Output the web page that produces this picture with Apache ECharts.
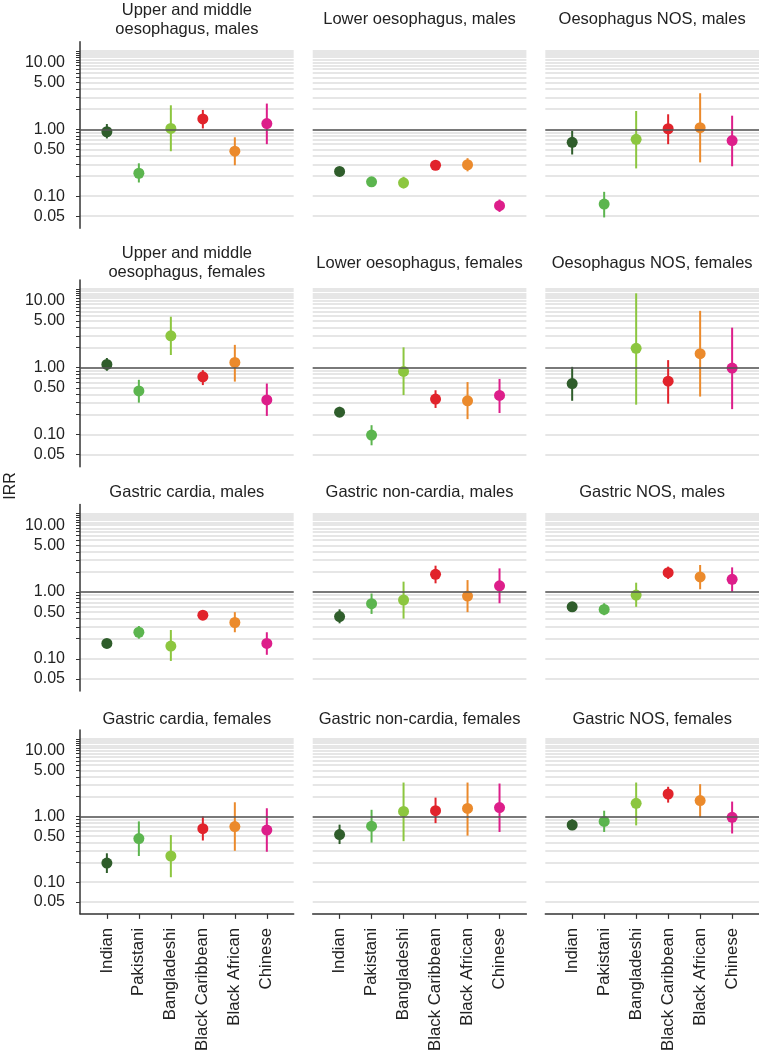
<!DOCTYPE html>
<html>
<head>
<meta charset="utf-8">
<script src="https://cdn.jsdelivr.net/npm/echarts@6/dist/echarts.min.js"></script>
<style>
html,body{margin:0;padding:0;background:#fff;}
#chart{width:759px;height:1054px;}
</style>
</head>
<body>
<div id="chart"></div>
<script>
const categories = ['Indian', 'Pakistani', 'Bangladeshi', 'Black Caribbean', 'Black African', 'Chinese'];
const colors = ['#2f5d2b', '#5cb54f', '#8cc63f', '#e1232b', '#eb8a2c', '#dd1e8a'];
const panelTitles = [
  'Upper and middle\noesophagus, males', 'Lower oesophagus, males', 'Oesophagus NOS, males',
  'Upper and middle\noesophagus, females', 'Lower oesophagus, females', 'Oesophagus NOS, females',
  'Gastric cardia, males', 'Gastric non-cardia, males', 'Gastric NOS, males',
  'Gastric cardia, females', 'Gastric non-cardia, females', 'Gastric NOS, females'
];
const gridValues = [0.05, 0.1, 0.2, 0.3, 0.4, 0.5, 0.6, 0.7, 0.8, 0.9, 1, 2, 3, 4, 5, 6, 7, 8, 9, 10, 11, 12, 13, 14, 15];
const tickLabelValues = [0.05, 0.1, 0.5, 1, 5, 10];

// Upper and middle oesophagus, males
const umMalesEst  = [0.92, 0.22, 1.03, 1.43, 0.47, 1.22];
const umMalesLow  = [0.73, 0.16, 0.47, 1.03, 0.29, 0.60];
const umMalesHigh = [1.20, 0.31, 2.29, 1.95, 0.76, 2.43];
// Lower oesophagus, males
const loMalesEst  = [0.234, 0.164, 0.158, 0.29, 0.295, 0.072];
const loMalesLow  = [0.215, 0.150, 0.130, 0.265, 0.235, 0.058];
const loMalesHigh = [0.255, 0.180, 0.195, 0.315, 0.370, 0.089];
// Oesophagus NOS, males
const onMalesEst  = [0.64, 0.076, 0.71, 1.02, 1.06, 0.68];
const onMalesLow  = [0.42, 0.048, 0.26, 0.60, 0.32, 0.28];
const onMalesHigh = [0.95, 0.116, 1.88, 1.68, 3.47, 1.60];
// Upper and middle oesophagus, females
const umFemalesEst  = [1.12, 0.45, 3.0, 0.73, 1.20, 0.33];
const umFemalesLow  = [0.90, 0.30, 1.55, 0.55, 0.62, 0.19];
const umFemalesHigh = [1.40, 0.66, 5.8, 0.92, 2.20, 0.58];
// Lower oesophagus, females
const loFemalesEst  = [0.216, 0.098, 0.88, 0.34, 0.32, 0.385];
const loFemalesLow  = [0.185, 0.069, 0.39, 0.25, 0.17, 0.21];
const loFemalesHigh = [0.260, 0.138, 2.02, 0.46, 0.61, 0.68];
// Oesophagus NOS, females
const onFemalesEst  = [0.58, null, 1.95, 0.63, 1.62, 0.99];
const onFemalesLow  = [0.32, null, 0.28, 0.29, 0.37, 0.24];
const onFemalesHigh = [1.03, null, 13.0, 1.30, 7.1, 3.98];
// Gastric cardia, males
const gcMalesEst  = [0.17, 0.25, 0.155, 0.45, 0.35, 0.17];
const gcMalesLow  = [0.155, 0.20, 0.093, 0.39, 0.25, 0.115];
const gcMalesHigh = [0.19, 0.31, 0.27, 0.52, 0.50, 0.25];
// Gastric non-cardia, males
const gnMalesEst  = [0.43, 0.67, 0.76, 1.84, 0.87, 1.24];
const gnMalesLow  = [0.34, 0.47, 0.40, 1.35, 0.50, 0.68];
const gnMalesHigh = [0.55, 0.95, 1.43, 2.48, 1.51, 2.26];
// Gastric NOS, males
const gsMalesEst  = [0.60, 0.55, 0.90, 1.95, 1.68, 1.55];
const gsMalesLow  = [0.55, 0.45, 0.60, 1.57, 1.10, 1.01];
const gsMalesHigh = [0.65, 0.68, 1.38, 2.40, 2.54, 2.34];
// Gastric cardia, females
const gcFemalesEst  = [0.195, 0.46, 0.25, 0.65, 0.70, 0.62];
const gcFemalesLow  = [0.138, 0.25, 0.119, 0.43, 0.30, 0.29];
const gcFemalesHigh = [0.275, 0.84, 0.52, 1.00, 1.64, 1.33];
// Gastric non-cardia, females
const gnFemalesEst  = [0.53, 0.71, 1.19, 1.22, 1.32, 1.36];
const gnFemalesLow  = [0.38, 0.40, 0.42, 0.79, 0.51, 0.58];
const gnFemalesHigh = [0.75, 1.26, 3.27, 1.93, 3.27, 3.16];
// Gastric NOS, females
const gsFemalesEst  = [0.74, 0.84, 1.58, 2.19, 1.74, 0.97];
const gsFemalesLow  = [0.62, 0.58, 0.73, 1.62, 0.97, 0.55];
const gsFemalesHigh = [0.90, 1.22, 3.27, 2.82, 3.09, 1.68];

const panelEst = [umMalesEst, loMalesEst, onMalesEst, umFemalesEst, loFemalesEst, onFemalesEst,
                  gcMalesEst, gnMalesEst, gsMalesEst, gcFemalesEst, gnFemalesEst, gsFemalesEst];
const panelLow = [umMalesLow, loMalesLow, onMalesLow, umFemalesLow, loFemalesLow, onFemalesLow,
                  gcMalesLow, gnMalesLow, gsMalesLow, gcFemalesLow, gnFemalesLow, gsFemalesLow];
const panelHigh = [umMalesHigh, loMalesHigh, onMalesHigh, umFemalesHigh, loFemalesHigh, onFemalesHigh,
                   gcMalesHigh, gnMalesHigh, gsMalesHigh, gcFemalesHigh, gnFemalesHigh, gsFemalesHigh];

// layout
const FONT = "'Liberation Sans', Arial, Helvetica, sans-serif";
const colLeft = [80, 312.7, 545.3];
const colWidth = 213.7;
const rowTop = [41.7, 280.1, 504.4, 730.1];
const rowHeight = 186.6;
const titleCenter = [19.5, 263, 492, 719];
const LINE_H = 19;

const grids = [], xAxes = [], yAxes = [], series = [], titles = [];
for (let p = 0; p < 12; p++) {
  const r = Math.floor(p / 3), c = p % 3;
  const isLeft = c === 0, isBottom = r === 3;
  grids.push({ left: colLeft[c], top: rowTop[r], width: colWidth, height: rowHeight, containLabel: false });
  const nLines = panelTitles[p].split('\n').length;
  titles.push({
    text: panelTitles[p],
    left: colLeft[c] + colWidth / 2,
    top: titleCenter[r] - nLines * LINE_H / 2,
    textAlign: 'center',
    padding: 0,
    textStyle: { fontFamily: FONT, fontSize: 16.5, fontWeight: 'normal', color: '#222', lineHeight: LINE_H }
  });
  xAxes.push({
    gridIndex: p, type: 'value', min: -0.84, max: 5.84,
    splitLine: { show: false },
    axisLine: { show: isBottom, onZero: false, lineStyle: { color: '#333', width: 1.5 } },
    axisTick: { show: isBottom, customValues: [0, 1, 2, 3, 4, 5], length: 5, lineStyle: { color: '#333', width: 1.2 } },
    axisLabel: {
      show: isBottom, customValues: [0, 1, 2, 3, 4, 5], rotate: 90, margin: 14,
      formatter: v => categories[Math.round(v)],
      fontFamily: FONT, fontSize: 16.8, color: '#222'
    }
  });
  yAxes.push({
    gridIndex: p, type: 'log', logBase: 10, min: 0.033, max: 20.5,
    axisLine: { show: isLeft, onZero: false, lineStyle: { color: '#333', width: 1.5 } },
    axisTick: { show: isLeft, customValues: gridValues, length: 4, lineStyle: { color: '#333', width: 1 } },
    axisLabel: {
      show: isLeft, customValues: tickLabelValues, margin: 15,
      formatter: v => Number(v).toFixed(2),
      fontFamily: FONT, fontSize: 16, color: '#222'
    },
    splitLine: { show: true, lineStyle: { color: '#dedede', width: 1.5 } }
  });
  const est = panelEst[p], low = panelLow[p], high = panelHigh[p];
  series.push({
    type: 'line', xAxisIndex: p, yAxisIndex: p, data: [], z: 2, silent: true,
    markLine: {
      silent: true, symbol: 'none', animation: false,
      label: { show: false },
      lineStyle: { color: '#555', width: 1.6, type: 'solid' },
      data: [{ yAxis: 1 }]
    }
  });
  series.push({
    type: 'custom', xAxisIndex: p, yAxisIndex: p, z: 3, silent: true,
    encode: { x: 0, y: [1, 2] },
    data: categories.map((cat, i) => est[i] == null ? null : [i, low[i], high[i]]).filter(d => d),
    renderItem: (params, api) => {
      const xi = api.value(0);
      const a = api.coord([xi, api.value(1)]);
      const b = api.coord([xi, api.value(2)]);
      return { type: 'line', shape: { x1: a[0], y1: a[1], x2: b[0], y2: b[1] },
               style: { stroke: colors[xi], lineWidth: 2 } };
    }
  });
  series.push({
    type: 'scatter', xAxisIndex: p, yAxisIndex: p, z: 4, symbolSize: 11, silent: true,
    itemStyle: { opacity: 1 },
    data: categories.map((cat, i) => est[i] == null ? null : { value: [i, est[i]], itemStyle: { color: colors[i], opacity: 1 } }).filter(d => d)
  });
}

const chart = echarts.init(document.getElementById('chart'), null, { renderer: 'canvas' });
chart.setOption({
  animation: false,
  backgroundColor: '#fff',
  title: titles,
  grid: grids,
  xAxis: xAxes,
  yAxis: yAxes,
  series: series,
  graphic: [{
    type: 'text', x: 11, y: 486, rotation: Math.PI / 2,
    style: { text: 'IRR', textAlign: 'center', textVerticalAlign: 'middle', fontFamily: FONT, fontSize: 16, fill: '#222' }
  }]
});
</script>
</body>
</html>
